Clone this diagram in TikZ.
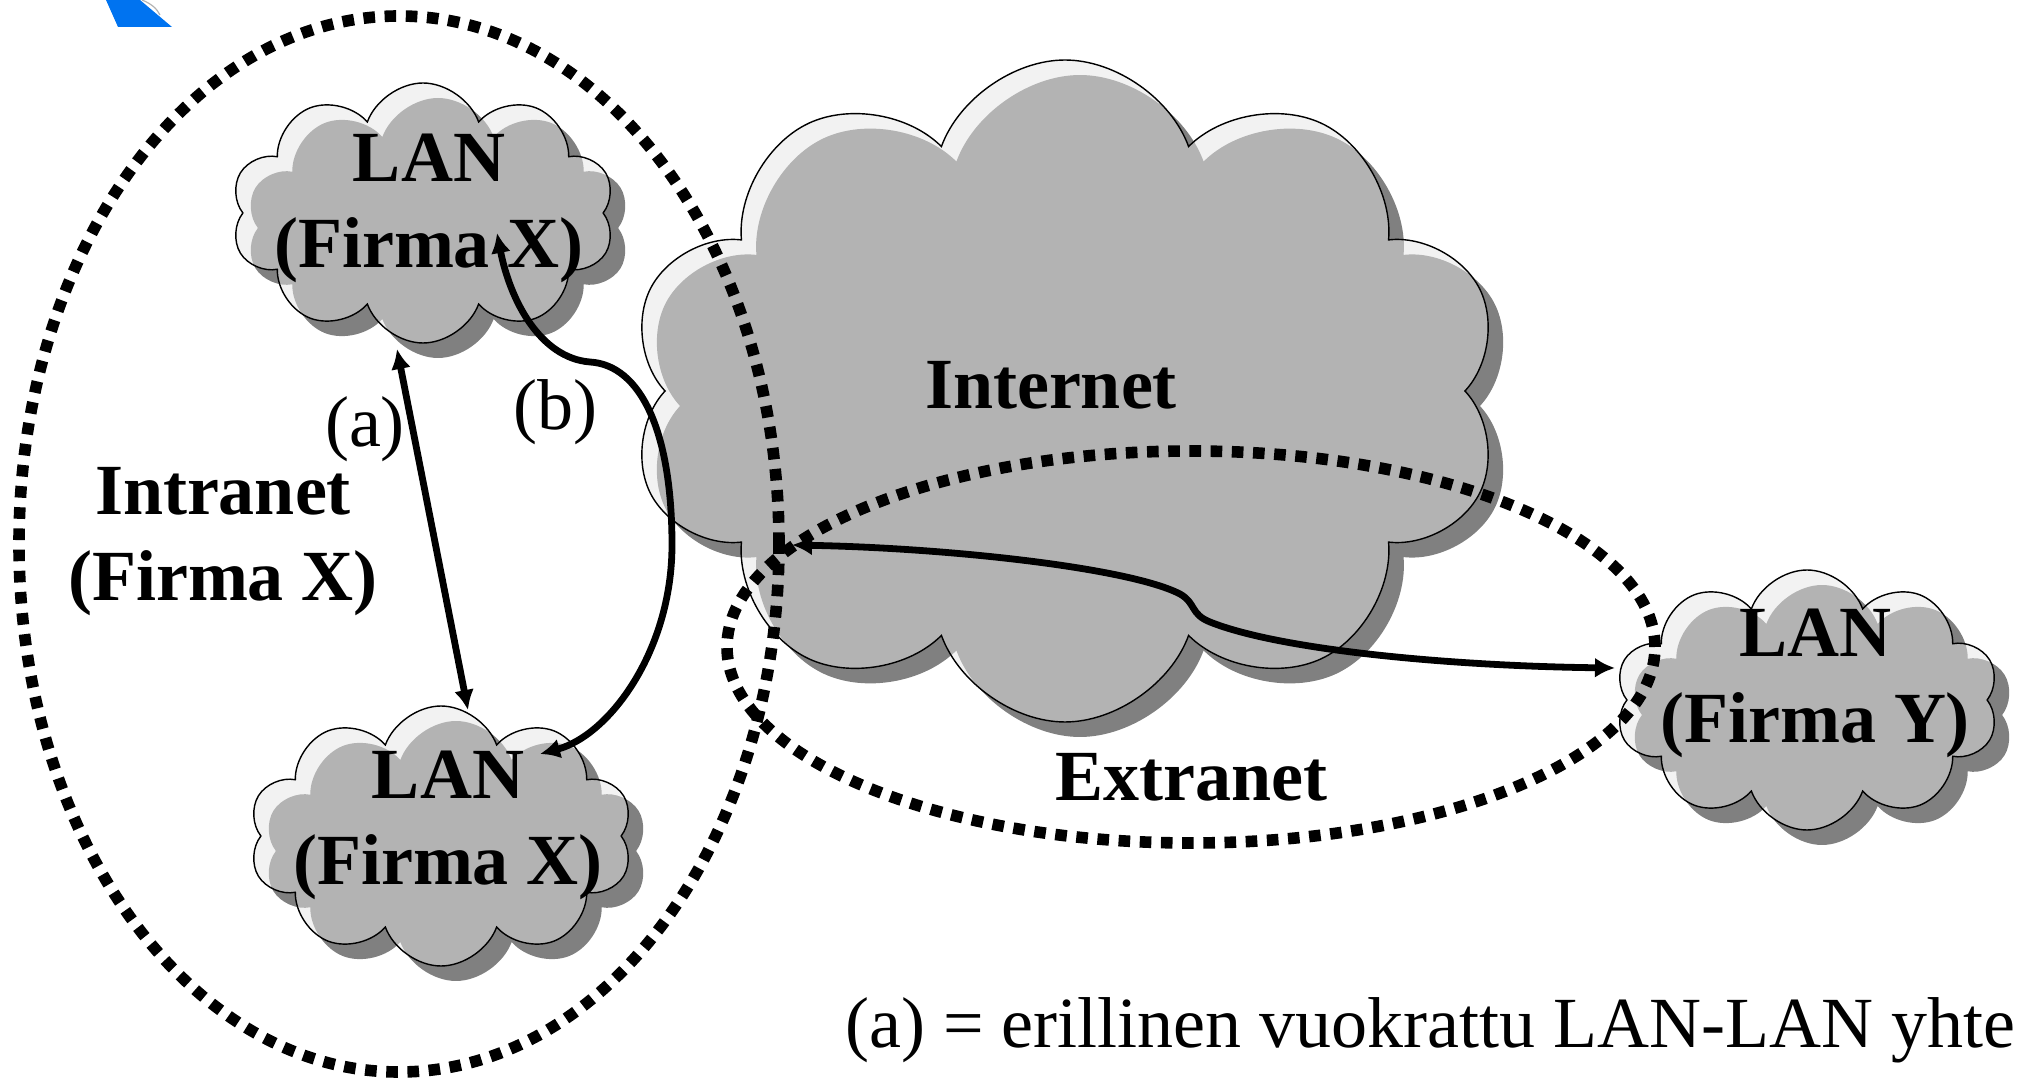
\documentclass[tikz,border=0pt]{standalone}
\usepackage{fontspec}
\setmainfont{Liberation Serif}
\usetikzlibrary{arrows.meta, shapes.symbols}

\definecolor{cloudgray}{HTML}{B3B3B3}
\definecolor{cloudlight}{HTML}{F2F2F2}
\definecolor{cloudshade}{HTML}{808080}
\definecolor{logoblue}{RGB}{0,115,240}

\newcommand\lblsize{\fontsize{36pt}{43pt}\selectfont}

\tikzset{
  puffy/.style={cloud, cloud puffs=10, cloud puff arc=140, cloud ignores aspect, inner sep=0pt, draw=none},
  lansize/.style={minimum width=192pt, minimum height=130pt},
  netsize/.style={minimum width=436pt, minimum height=331pt},
  cloudshadow/.style={puffy, #1, fill=cloudshade},
  cloudbody/.style={puffy, #1, fill=cloudlight, draw=black, line width=0.7pt,
    path picture={\node[puffy, #1, fill=cloudgray] at ([shift={(7.5pt,-7.5pt)}]path picture bounding box.center) {};}},
  lbl/.style={font=\lblsize\bfseries, align=center, inner sep=0pt},
  note/.style={font=\lblsize, inner sep=0pt},
  dotring/.style={line width=5.8pt, dash pattern=on 5.8pt off 4.8pt},
  link/.style={line width=3.4pt, <->},
}

\begin{document}
\begin{tikzpicture}[x=0.5pt, y=-0.5pt, >={Latex[length=10pt,width=10pt]}]

\useasboundingbox (0,0) rectangle (2020,1079);

%\draw[step=100,color=gray!40] (0,0) grid (2020,1079);

% corner of the logo
\fill[logoblue] (106,0) -- (140,0) -- (172,27) -- (118,27) -- cycle;
\draw[gray!60, line width=0.6pt] (142,0) .. controls (152,4) and (157,9) .. (160,15);

% clouds: shadow first, then the body
    \foreach \n/\x/\y in {lanx1/423/213, lanx2/441/836, lany/1807/700}
    {
        \node[cloudshadow=lansize] at (\x+15,\y+15) {};
        \node[cloudbody=lansize] (\n) at (\x,\y) {};
    }

\node[cloudshadow=netsize] at (1080,406) {};
\node[cloudbody=netsize] (internet) at (1065,391) {};

% intranet and extranet
\draw[dotring] (399,544) ellipse [x radius=190pt, y radius=264pt];
\draw[dotring] (1191,647) ellipse [x radius=232pt, y radius=98pt];

\node[lbl] (lanx1-txt) at (429,208) {LAN\\(Firma X)};
\node[lbl] (lanx2-txt) at (448,825) {LAN\\(Firma X)};
\node[lbl] (lany-txt) at (1815,683) {LAN\\(Firma Y)};
\node[lbl] (intra-txt) at (223,542) {Intranet\\(Firma X)};
\node[lbl, anchor=base] (inet-txt) at (1051,409) {Internet};
\node[lbl, anchor=base] (extra-txt) at (1191,801) {Extranet};

\node[note, anchor=base] (a-txt) at (365,447) {(a)};
\node[note, anchor=base] (b-txt) at (555,430) {(b)};
\node[note, anchor=base east] (a-note) at (2016,1047) {(a) = erillinen vuokrattu LAN-LAN yhte};

% (a) leased line, (b) over the internet
\draw[link] ([shift={(-26,136)}]lanx1.center) -- ([shift={(27,-126)}]lanx2.center);

\draw[link] ([shift={(99,-82)}]lanx2.center) .. controls (610,735) and (672,650) .. (672,545)
    .. controls (672,430) and (640,365) .. (590,362)
    .. controls (540,358) and (510,300) .. ([shift={(74,20)}]lanx1.center);

\draw[link] ([shift={(-273,154)}]internet.center) .. controls (950,548) and (1130,568) .. (1180,594)
    .. controls (1196,603) and (1190,614) .. (1210,622)
    .. controls (1280,650) and (1450,666) .. ([shift={(-192,-32)}]lany.center);

\end{tikzpicture}
\end{document}
